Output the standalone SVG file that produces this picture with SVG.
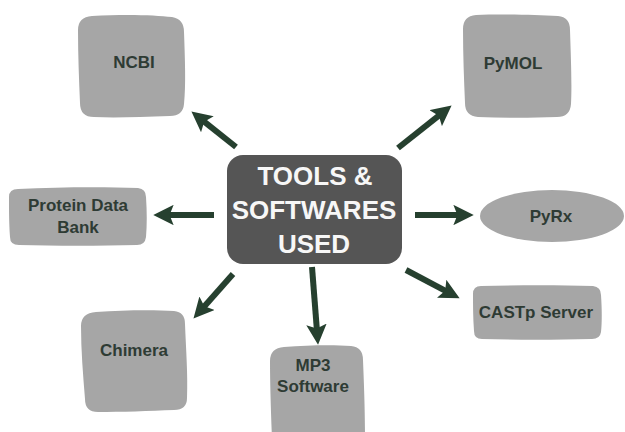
<svg xmlns="http://www.w3.org/2000/svg" width="625" height="432" viewBox="0 0 625 432">
  <style>
    .node { fill: #a6a6a6; }
    .hub { fill: #555555; }
    .label { font-family: "Liberation Sans", "DejaVu Sans", sans-serif; font-weight: bold; font-size: 17px; fill: #2e3b34; text-anchor: middle; }
    .title { font-family: "Liberation Sans", "DejaVu Sans", sans-serif; font-weight: bold; font-size: 26px; fill: #f7f7f7; text-anchor: middle; }
    .link { stroke: #26402f; stroke-width: 6; fill: none; marker-end: url(#head); }
  </style>
  <defs>
    <marker id="head" viewBox="0 0 10 10" refX="4" refY="5" markerWidth="3.4" markerHeight="3.4" orient="auto">
      <path d="M0,0 L10,5 L0,10 L2,5 Z" fill="#26402f"/>
    </marker>
  </defs>
  <rect width="625" height="432" fill="#ffffff"/>

  <g id="connectors">
    <line class="link" x1="236" y1="147" x2="201" y2="119.2"/>
    <line class="link" x1="398" y1="148" x2="442" y2="113.1"/>
    <line class="link" x1="214" y1="215" x2="165.5" y2="215"/>
    <line class="link" x1="233" y1="274" x2="201.6" y2="309.4"/>
    <line class="link" x1="312" y1="267" x2="317.1" y2="332.5"/>
    <line class="link" x1="415" y1="215" x2="461.5" y2="215"/>
    <line class="link" x1="406" y1="270" x2="448.8" y2="292.6"/>
  </g>

  <g id="hub">
    <rect class="hub" x="227" y="155" width="175" height="109" rx="16"/>
    <text class="title" x="315" y="185">TOOLS &amp;</text>
    <text class="title" x="314" y="219">SOFTWARES</text>
    <text class="title" x="314" y="253">USED</text>
  </g>

  <g id="ncbi">
    <path class="node" d="M92,16 C125,14 155,15 172,17 Q184,19 184,32 C185,60 186,85 184,104 Q183,116 170,116 C140,117 115,118 94,117 Q80,117 80,103 C79,80 78,55 78,30 Q78,17 92,16 Z"/>
    <text class="label" x="134" y="68">NCBI</text>
  </g>

  <g id="pymol">
    <path class="node" d="M476,15 C505,14 535,15 558,16 Q570,17 570,30 C571,60 572,85 571,104 Q570,117 557,117 C530,118 505,118 478,117 Q465,116 465,103 C464,80 463,55 463,29 Q463,16 476,15 Z"/>
    <text class="label" x="513" y="69">PyMOL</text>
  </g>

  <g id="pdb">
    <path class="node" d="M18,189 C60,187 105,187 138,188 Q146,189 146,197 C147,212 147,225 146,237 Q145,245 137,245 C100,246 55,246 19,245 Q10,245 10,237 C9,222 9,210 9,197 Q9,189 18,189 Z"/>
    <text class="label" x="78" y="211">Protein Data</text>
    <text class="label" x="78" y="233">Bank</text>
  </g>

  <g id="pyrx">
    <ellipse class="node" cx="552" cy="216" rx="72" ry="26"/>
    <text class="label" x="551" y="222">PyRx</text>
  </g>

  <g id="chimera">
    <path class="node" d="M96,312 C125,310 155,310 174,311 Q185,312 185,324 C186,350 188,375 187,398 Q187,410 174,410 C150,411 120,412 98,412 Q85,412 85,399 C83,375 81,350 81,326 Q81,313 96,312 Z"/>
    <text class="label" x="134" y="356">Chimera</text>
  </g>

  <g id="mp3">
    <path class="node" d="M284,347 C310,345 335,345 351,346 Q363,347 363,360 C364,385 365,410 365,440 L272,440 C271,410 270,385 270,361 Q270,348 284,347 Z"/>
    <text class="label" x="313" y="371">MP3</text>
    <text class="label" x="313" y="392">Software</text>
  </g>

  <g id="castp">
    <path class="node" d="M481,286 C520,285 560,285 593,286 Q601,287 601,295 C602,310 602,322 601,332 Q600,339 592,339 C555,340 515,340 482,339 Q474,339 474,331 C473,318 473,305 473,294 Q473,286 481,286 Z"/>
    <text class="label" x="536" y="318">CASTp Server</text>
  </g>
</svg>
